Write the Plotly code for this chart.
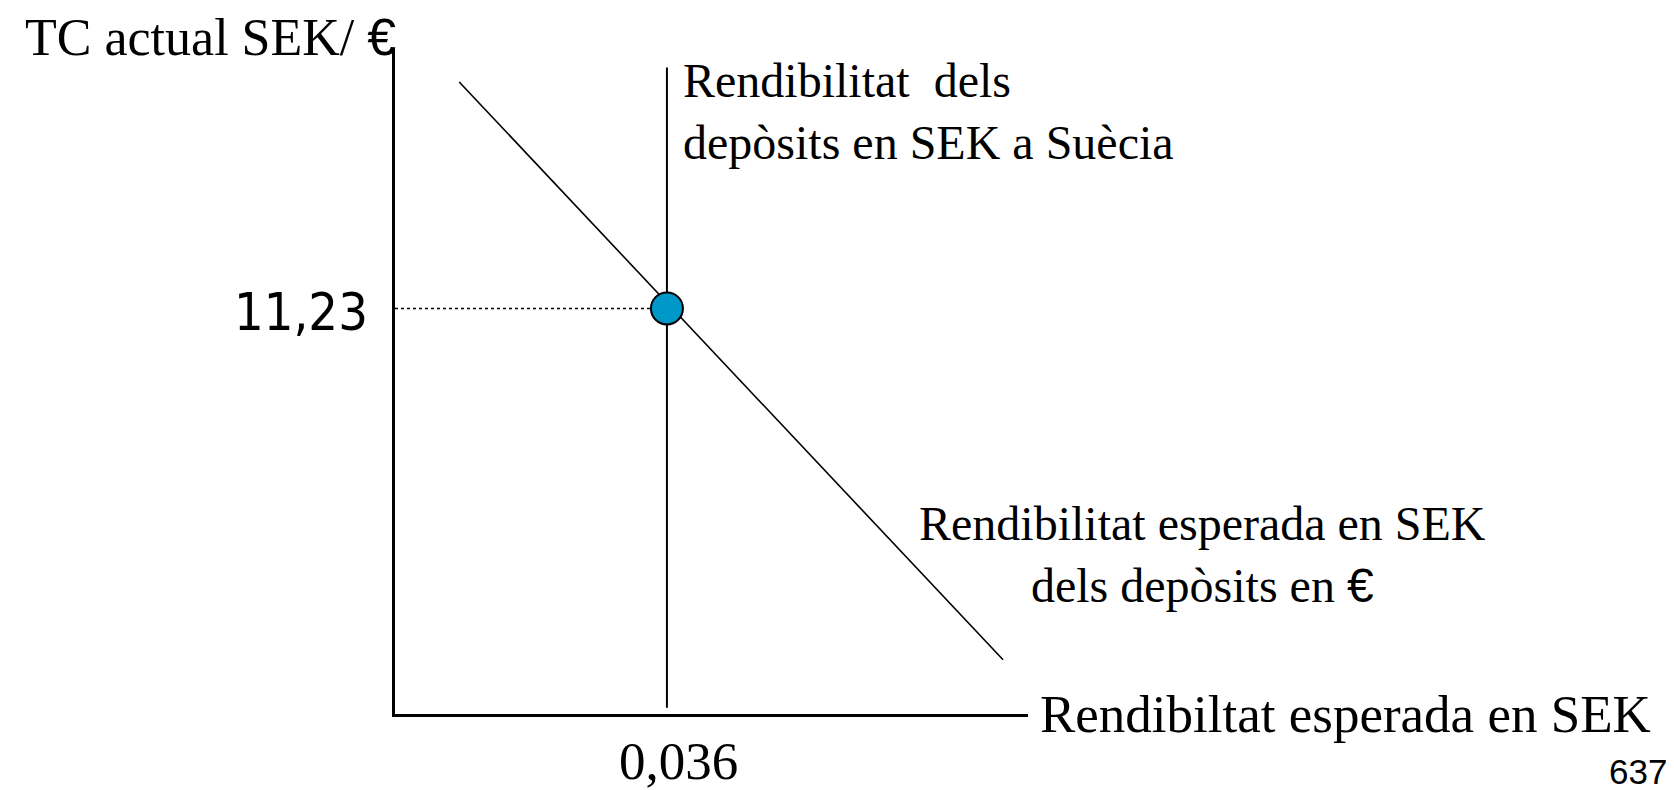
import plotly.graph_objects as go

# Equilibrium in the SEK / EUR foreign-exchange market
eq_return = [0.036]          # expected return in SEK (x)
eq_rate = [11.23]            # current exchange rate SEK/€ (y)

# Expected SEK return of € deposits (downward sloping)
euro_dep_return = [0.0085, 0.0805]
euro_dep_rate = [17.5, 1.5]

# Return on SEK deposits in Sweden (vertical line)
sek_dep_return = [0.036, 0.036]
sek_dep_rate = [0.17, 17.9]

# Axis extents
x_max = 0.0838
y_max = 18.44

eq_x_label = "0,036"
eq_y_label = "11,23"
page_number = "637"

SERIF = "Liberation Serif, Times New Roman, serif"
SANS_NUM = "DejaVu Sans Condensed, DejaVu Sans, sans-serif"
EURO = '<span style="font-family:Liberation Sans">€</span>'

fig = go.Figure()

# dotted guide from y axis to equilibrium
fig.add_trace(go.Scatter(
    x=[0, eq_return[0]], y=[eq_rate[0], eq_rate[0]],
    mode="lines", line=dict(color="black", width=1.5, dash="dot"),
    hoverinfo="skip", showlegend=False,
))

fig.add_trace(go.Scatter(
    x=sek_dep_return, y=sek_dep_rate,
    mode="lines", line=dict(color="black", width=2),
    hoverinfo="skip", showlegend=False,
))

fig.add_trace(go.Scatter(
    x=euro_dep_return, y=euro_dep_rate,
    mode="lines", line=dict(color="black", width=1.6),
    hoverinfo="skip", showlegend=False,
))

fig.add_trace(go.Scatter(
    x=eq_return, y=eq_rate,
    mode="markers",
    marker=dict(size=32, color="#0097C9", line=dict(color="black", width=2)),
    hoverinfo="skip", showlegend=False, cliponaxis=False,
))

annotations = [
    # y-axis title (above the plot area, so paper coords)
    dict(x=0, y=1.024, xref="paper", yref="paper", xanchor="right", yanchor="middle",
         xshift=2, yshift=-5, borderpad=0,
         text="TC actual SEK/ " + EURO,
         font=dict(family=SERIF, size=52, color="black")),
    # x-axis title
    dict(x=x_max, y=0, xanchor="left", yanchor="middle", xshift=10,
         text="Rendibiltat esperada en SEK",
         font=dict(family=SERIF, size=53, color="black")),
    # equilibrium values
    dict(x=0, y=eq_rate[0], xanchor="right", yanchor="middle", xshift=-25, yshift=-4,
         text=eq_y_label, font=dict(family=SANS_NUM, size=52, color="black")),
    dict(x=eq_return[0], y=0, xanchor="center", yanchor="top", xshift=12, yshift=-17,
         borderpad=0,
         text=eq_x_label, font=dict(family=SERIF, size=53, color="black")),
    # curve labels
    dict(x=sek_dep_return[1], y=16.67, xanchor="left", yanchor="middle", xshift=14,
         align="left",
         text="Rendibilitat  dels<br>depòsits en SEK a Suècia",
         font=dict(family=SERIF, size=48, color="black")),
    dict(x=1.276, y=0.239, xref="paper", yref="paper", xanchor="center", yanchor="middle",
         align="center",
         text="Rendibilitat esperada en SEK<br>dels depòsits en " + EURO,
         font=dict(family=SERIF, size=48, color="black")),
    # page number in the corner
    dict(x=2.013, y=-0.086, xref="paper", yref="paper", xanchor="right", yanchor="middle",
         text=page_number, font=dict(family="Liberation Sans, Arial, sans-serif", size=35, color="black")),
]
for a in annotations:
    a.setdefault("showarrow", False)

# page body has an 8px margin, so the figure is 16px smaller than the window
fig.update_layout(
    width=1666, height=782,
    margin=dict(l=387, r=646, t=40, b=76),
    paper_bgcolor="white", plot_bgcolor="white",
    xaxis=dict(range=[0, x_max], showgrid=False, zeroline=False, showticklabels=False,
               ticks="", showline=True, linecolor="black", linewidth=2.5, fixedrange=True),
    yaxis=dict(range=[0, y_max], showgrid=False, zeroline=False, showticklabels=False,
               ticks="", showline=True, linecolor="black", linewidth=2.5, fixedrange=True),
    annotations=annotations,
    showlegend=False,
)

fig.write_html("out.html")
